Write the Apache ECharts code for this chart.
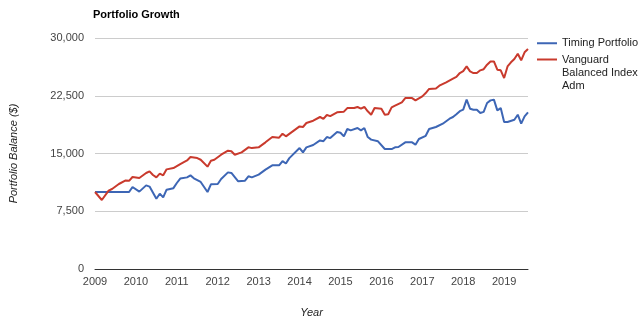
<!DOCTYPE html>
<html><head><meta charset="utf-8">
<script src="https://cdn.jsdelivr.net/npm/echarts@6/dist/echarts.min.js"></script>
<style>html,body{margin:0;padding:0;background:#fff}#c{width:640px;height:325px}</style>
</head><body><div id="c"></div>
<script>
const titleText = 'Portfolio Growth';
const seriesNames = ['Timing Portfolio', 'Vanguard Balanced Index Adm'];
const yTicks = [0, 7500, 15000, 22500, 30000];
const xTickYears = [2009, 2010, 2011, 2012, 2013, 2014, 2015, 2016, 2017, 2018, 2019];

const blueMonths = ['2009-01','2009-11','2009-12','2010-02','2010-04','2010-05','2010-07','2010-08','2010-09','2010-10','2010-12',
'2011-01','2011-02','2011-04','2011-05','2011-06','2011-08','2011-10','2011-11','2012-01','2012-02','2012-04','2012-05','2012-07',
'2012-09','2012-10','2012-11','2013-01','2013-03','2013-05','2013-07','2013-08','2013-09','2013-10','2014-01','2014-02','2014-03',
'2014-05','2014-07','2014-08','2014-09','2014-10','2014-12','2015-01','2015-02','2015-03','2015-04','2015-06','2015-07','2015-08',
'2015-09','2015-10','2015-12','2016-02','2016-04','2016-05','2016-06','2016-08','2016-10','2016-11','2016-12','2017-02','2017-03',
'2017-05','2017-07','2017-09','2017-10','2017-11','2017-12','2018-01','2018-02','2018-03','2018-04','2018-05','2018-06','2018-07',
'2018-08','2018-09','2018-10','2018-11','2018-12','2019-01','2019-02','2019-04','2019-05','2019-06','2019-07','2019-08'];
const blueValues = [10000,10000,10650,10050,10860,10700,9130,9780,9300,10300,10500,
11170,11740,11900,12160,11780,11300,10000,11000,11040,11690,12550,12470,11390,
11470,12040,11900,12250,12900,13460,13460,14000,13700,14400,15710,15150,15800,
16100,16700,16600,17140,17000,17790,17700,17230,18180,18000,18310,18000,18310,
17140,16800,16580,15580,15580,15800,15850,16450,16450,16150,16880,17300,18180,
18440,18870,19520,19740,20100,20500,20700,21990,20820,20690,20690,20260,20400,
21560,21900,21990,20600,20900,19100,19100,19390,20040,18870,19820,20340];

const redMonths = ['2009-01','2009-03','2009-05','2009-06','2009-08','2009-10','2009-11','2009-12','2010-02','2010-04','2010-05',
'2010-06','2010-07','2010-08','2010-09','2010-10','2010-12','2011-02','2011-04','2011-05','2011-07','2011-08','2011-10','2011-11',
'2011-12','2012-02','2012-04','2012-05','2012-06','2012-08','2012-10','2012-11','2013-01','2013-03','2013-05','2013-07','2013-08',
'2013-09','2013-11','2014-01','2014-02','2014-03','2014-05','2014-07','2014-08','2014-09','2014-10','2014-12','2015-02','2015-03',
'2015-05','2015-06','2015-07','2015-08','2015-09','2015-10','2015-11','2016-01','2016-02','2016-03','2016-04','2016-05','2016-07',
'2016-08','2016-10','2016-11','2017-01','2017-02','2017-03','2017-05','2017-06','2017-08','2017-10','2017-11','2017-12','2018-01',
'2018-02','2018-03','2018-04','2018-05','2018-06','2018-07','2018-08','2018-09','2018-10','2018-11','2018-12','2019-01','2019-02',
'2019-03','2019-04','2019-05','2019-06','2019-07','2019-08'];
const redValues = [10000,8960,10170,10390,11040,11500,11450,11950,11820,12470,12680,
12210,11900,12380,12160,12940,13110,13630,14100,14540,14410,14190,13290,14070,
14190,14840,15360,15300,14840,15150,15800,15700,15800,16450,17140,17050,17570,
17230,17880,18520,18440,18960,19260,19740,19500,20000,19850,20350,20430,20900,
20900,21040,20830,21040,20480,20040,20900,20800,20040,20100,20990,21210,21640,
22200,22200,21900,22420,22850,23380,23450,23810,24240,24720,24950,25450,25700,
26310,25660,25450,25450,25800,25950,26530,26960,26960,25880,25800,24800,26310,
26840,27270,27960,27100,28140,28570];

function toYear(s) { const p = s.split('-').map(Number); return p[0] + (p[1] - 1) / 12; }
function pairs(ms, vs) { return ms.map((m, i) => [toYear(m), vs[i]]); }

const font = 'Arial, "Liberation Sans", sans-serif';
const blue = '#3d66b5', red = '#c93a2d';
const chart = echarts.init(document.getElementById('c'));
chart.setOption({
  animation: false,
  title: { text: titleText, left: 93, top: 9, padding: 0,
    textStyle: { fontFamily: font, fontSize: 11, fontWeight: 'bold', color: '#000' } },
  legend: [
    { orient: 'vertical', left: 537, top: 37, padding: 0, itemWidth: 20, itemHeight: 2, icon: 'rect',
      data: [seriesNames[0]],
      textStyle: { fontFamily: font, fontSize: 11, color: '#222', lineHeight: 12.5 } },
    { orient: 'vertical', left: 537, top: 27, padding: 0, itemWidth: 20, itemHeight: 2, icon: 'rect',
      data: [seriesNames[1]],
      formatter: () => '\n\nVanguard\nBalanced Index\nAdm',
      textStyle: { fontFamily: font, fontSize: 11, color: '#222', lineHeight: 13 } }
  ],
  grid: { left: 95, right: 112, top: 38, bottom: 56 },
  xAxis: {
    type: 'value', min: xTickYears[0], max: toYear(blueMonths[blueMonths.length - 1]), interval: 1,
    name: 'Year', nameLocation: 'middle', nameGap: 38,
    nameTextStyle: { fontFamily: font, fontSize: 11, fontStyle: 'italic', color: '#222' },
    axisLine: { lineStyle: { color: '#333', width: 1 } },
    axisTick: { show: false },
    splitLine: { show: false },
    axisLabel: { fontFamily: font, fontSize: 11, color: '#444', margin: 7, showMaxLabel: false,
      formatter: v => xTickYears.includes(v) ? String(v) : '' }
  },
  yAxis: {
    type: 'value', min: yTicks[0], max: yTicks[yTicks.length - 1], interval: 7500,
    name: 'Portfolio Balance ($)', nameLocation: 'middle', nameGap: 76,
    nameTextStyle: { fontFamily: font, fontSize: 11, fontStyle: 'italic', color: '#222' },
    axisLine: { show: false }, axisTick: { show: false },
    splitLine: { lineStyle: { color: '#cccccc', width: 1 } },
    axisLabel: { fontFamily: font, fontSize: 11, color: '#444', margin: 11,
      formatter: v => v.toLocaleString('en-US') }
  },
  series: [
    { name: seriesNames[0], type: 'line', symbol: 'none', data: pairs(blueMonths, blueValues),
      lineStyle: { color: blue, width: 2 }, itemStyle: { color: blue } },
    { name: seriesNames[1], type: 'line', symbol: 'none', data: pairs(redMonths, redValues),
      lineStyle: { color: red, width: 2 }, itemStyle: { color: red } }
  ]
});
</script></body></html>
